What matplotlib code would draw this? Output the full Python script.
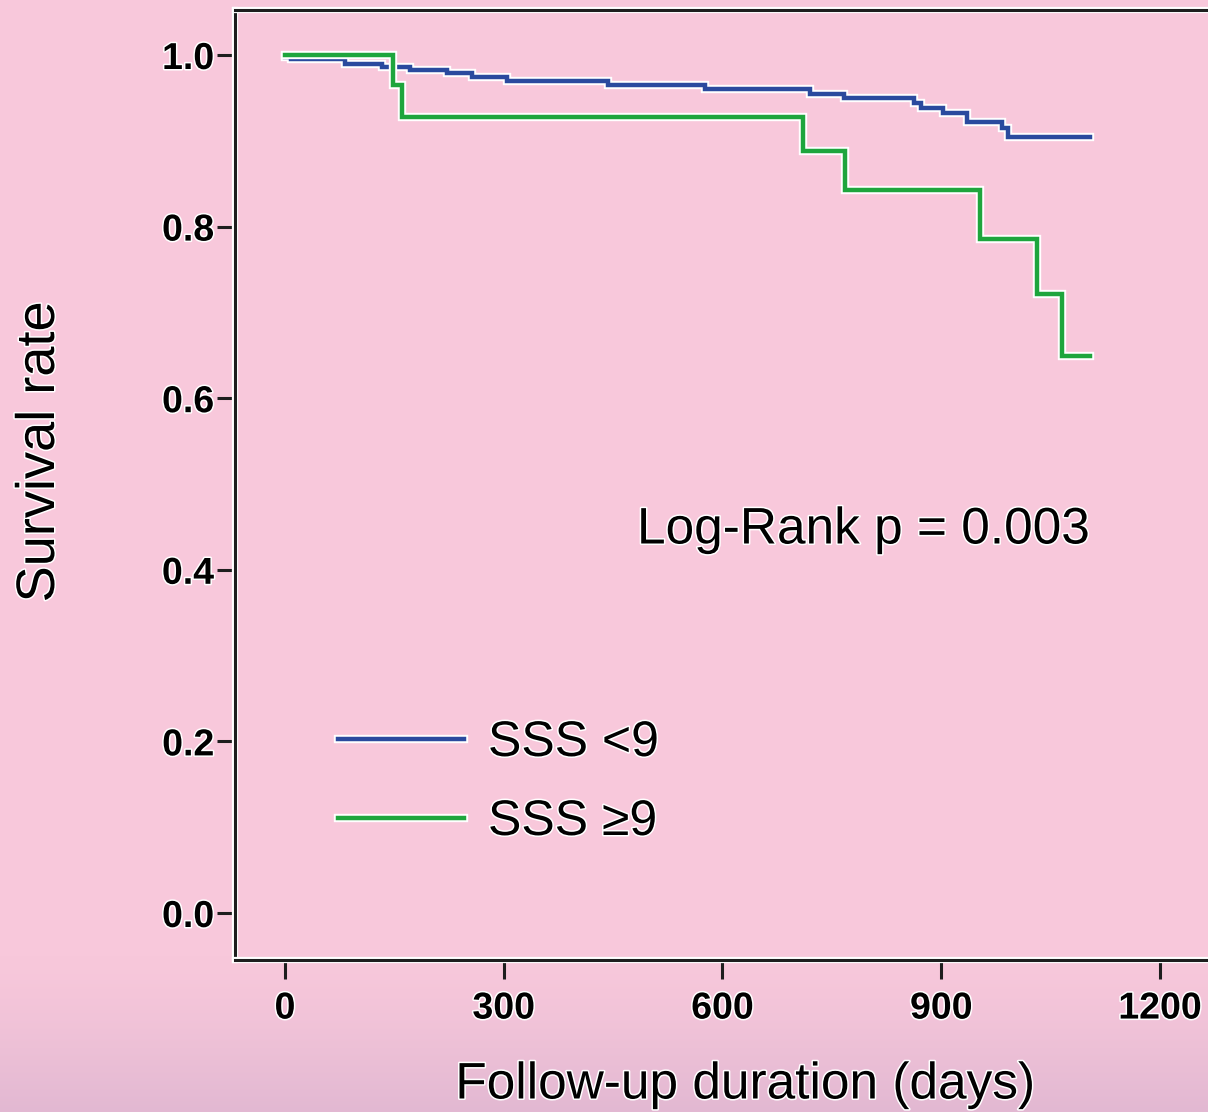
import matplotlib
matplotlib.use("Agg")
import matplotlib.pyplot as plt
import matplotlib.patheffects as pe
import numpy as np

plt.rcParams['font.family'] = ['Liberation Sans', 'DejaVu Sans']

# ---- data ----
blue_label = "SSS <9"
blue_t = [0, 8, 82, 133, 171, 222, 256, 304, 443, 576, 720, 766, 862, 872, 903, 935, 983, 992, 1104]
blue_s = [0.998, 0.995, 0.990, 0.986, 0.983, 0.979, 0.974, 0.970, 0.965, 0.960, 0.955, 0.950,
          0.944, 0.938, 0.932, 0.922, 0.915, 0.904, 0.904]

green_label = "SSS \u22659"
green_t = [0, 148, 160, 711, 768, 953, 1031, 1065, 1104]
green_s = [1.0, 0.965, 0.928, 0.888, 0.843, 0.785, 0.721, 0.649, 0.649]

x_ticks = [0, 300, 600, 900, 1200]
y_ticks = [0.0, 0.2, 0.4, 0.6, 0.8, 1.0]
y_tick_labels = ["0.0", "0.2", "0.4", "0.6", "0.8", "1.0"]
annot = "Log-Rank p = 0.003"
xlabel = "Follow-up duration (days)"
ylabel = "Survival rate"

# ---- styling ----
W, H = 1208, 1112
DPI = 100
PINK = np.array([248, 200, 219]) / 255
PINK_BOTTOM = np.array([226, 184, 210]) / 255
BLUE = "#2a4a9e"
GREEN = "#1ea53d"
DARK = "#1e1e1e"

fig = plt.figure(figsize=(W / DPI, H / DPI), dpi=DPI)
fig.patch.set_facecolor(PINK)

# background gradient
bg = fig.add_axes([0, 0, 1, 1], zorder=-10)
rows = np.arange(H)
frac = np.clip((rows - 955) / (H - 955), 0, 1)[:, None] ** 1.3
grad = PINK[None, :] * (1 - frac) + PINK_BOTTOM[None, :] * frac
img = np.repeat(grad[:, None, :], 4, axis=1)
bg.imshow(img, aspect='auto', extent=[0, 1, 0, 1], origin='upper')
bg.axis('off')

# main axes geometry (pixels)
left_px, right_px, top_px, bottom_px = 235, 1215, 10, 960
ax = fig.add_axes([left_px / W, 1 - bottom_px / H, (right_px - left_px) / W, (bottom_px - top_px) / H])
ax.set_facecolor('none')

x0_px, px_per_day = 285, 875 / 1200
y1_px, y0_px = 55, 913
px_per_unit = y0_px - y1_px
ax.set_xlim((left_px - x0_px) / px_per_day, (right_px - x0_px) / px_per_day)
ax.set_ylim((y0_px - bottom_px) / px_per_unit, (y0_px - top_px) / px_per_unit)

halo = [pe.Stroke(linewidth=6.0, foreground='white'), pe.Normal()]
txt_halo = [pe.Stroke(linewidth=2.2, foreground='white'), pe.Normal()]

ax.step(blue_t, blue_s, where='post', color=BLUE, lw=3.2, label=blue_label,
        path_effects=halo, zorder=2, solid_joinstyle='miter')
ax.step(green_t, green_s, where='post', color=GREEN, lw=3.2, label=green_label,
        path_effects=halo, zorder=3, solid_joinstyle='miter')

for side, sp in ax.spines.items():
    sp.set_color(DARK)
    sp.set_linewidth(2.2)
    sp.set_path_effects([pe.Stroke(linewidth=4.5, foreground='white'), pe.Normal()])

ax.set_xticks(x_ticks)
ax.set_xticklabels([str(v) for v in x_ticks])
ax.set_yticks(y_ticks)
ax.set_yticklabels(y_tick_labels)
ax.tick_params(axis='x', direction='out', length=14, width=2.2, color=DARK, pad=8,
               labelsize=27, labelcolor='black')
ax.tick_params(axis='y', direction='out', length=13, width=2.2, color=DARK, pad=2,
               labelsize=27, labelcolor='black')
for lab in ax.get_xticklabels() + ax.get_yticklabels():
    lab.set_fontweight('bold')
    lab.set_path_effects(txt_halo)

ax.set_xlabel(xlabel, fontsize=37, color='black')
ax.set_ylabel(ylabel, fontsize=39, color='black')
ax.xaxis.label.set_va('center')
ax.yaxis.label.set_va('center')
ax.xaxis.set_label_coords((745 - left_px) / (right_px - left_px), (bottom_px - 1085) / (bottom_px - top_px))
ax.yaxis.set_label_coords((40 - left_px) / (right_px - left_px), (bottom_px - 452) / (bottom_px - top_px))
ax.xaxis.label.set_path_effects(txt_halo)
ax.yaxis.label.set_path_effects(txt_halo)

ax.text((637 - x0_px) / px_per_day, (y0_px - 530) / px_per_unit, annot, fontsize=37,
        ha='left', va='center', color='black', path_effects=txt_halo)

leg = ax.legend(loc='upper left',
                bbox_to_anchor=((338 - left_px) / (right_px - left_px), (bottom_px - 720) / (bottom_px - top_px)),
                frameon=False, fontsize=36, handlelength=2.52, handletextpad=0.48,
                labelspacing=0.66, borderpad=0, borderaxespad=0)
for t in leg.get_texts():
    t.set_path_effects(txt_halo)

fig.savefig("out.png", dpi=DPI, facecolor=fig.get_facecolor())
